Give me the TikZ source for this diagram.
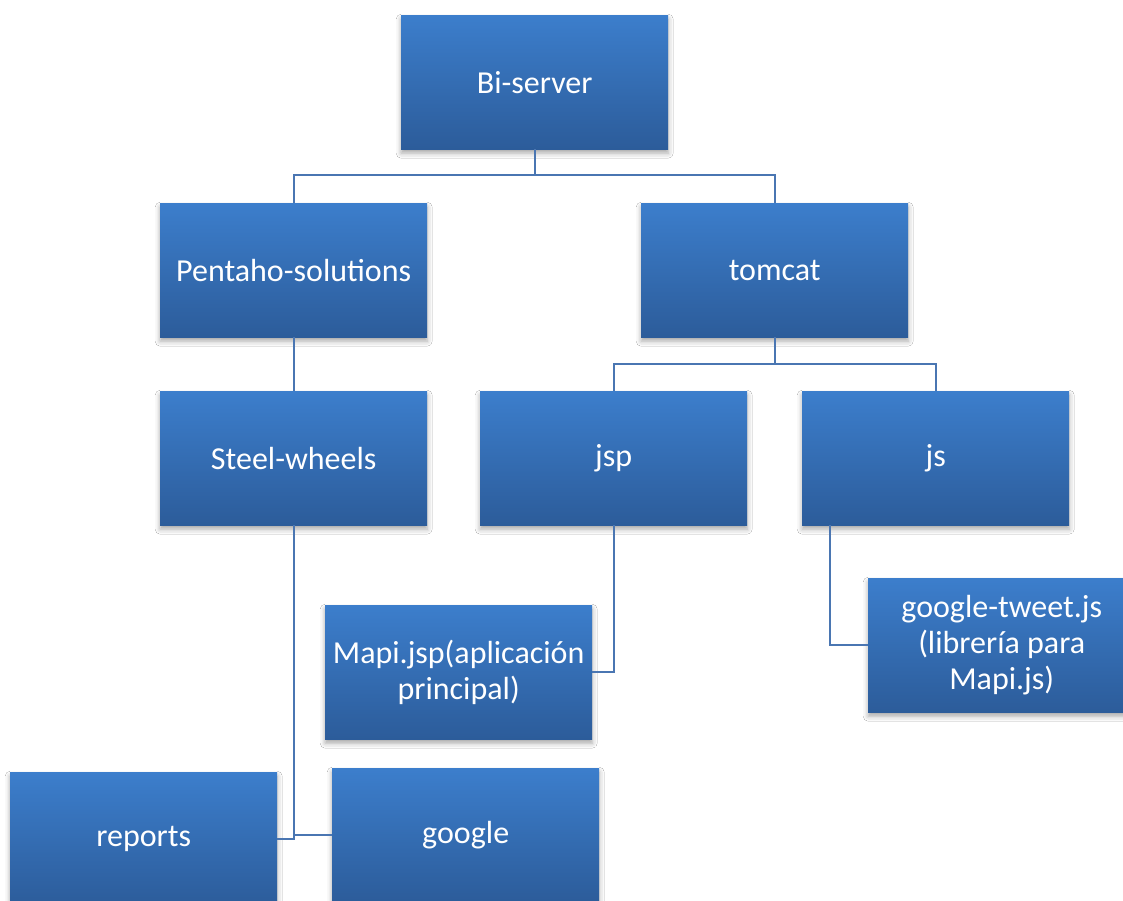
\documentclass[tikz,border=0pt]{standalone}
\usepackage{fontspec}
\setmainfont{Carlito}
\usetikzlibrary{shadows.blur}
\definecolor{boxtop}{RGB}{60,126,204}
\definecolor{boxbot}{RGB}{44,92,154}
\definecolor{linkcol}{RGB}{74,118,178}
\tikzset{
  orgbox/.style={rectangle, anchor=north west, minimum width=267pt, minimum height=134pt,
    inner sep=0pt, top color=boxtop, bottom color=boxbot, text=white, align=center,
    font=\fontsize{32}{36}\selectfont,
    blur shadow={shadow xshift=0pt, shadow yshift=-4pt, shadow blur radius=5pt, shadow opacity=35}},
  link/.style={draw=linkcol, line width=2pt}
}
\begin{document}
\begin{tikzpicture}[x=1pt, y=-1pt]
\useasboundingbox (0,0) rectangle (1123,901);
\clip (0,0) rectangle (1123,901);
\fill[white] (0,0) rectangle (1123,901);

% boxes of the tree
\node[orgbox] (bi)      at (401,15)  {Bi-server};
\node[orgbox] (pent)    at (160,203) {Pentaho-solutions};
\node[orgbox] (tom)     at (641,203) {tomcat};
\node[orgbox] (steel)   at (160,391) {Steel-wheels};
\node[orgbox] (jsp)     at (480,391) {jsp};
\node[orgbox] (js)      at (802,391) {js};
\node[orgbox] (mapi)    at (325,605) {Mapi.jsp(aplicación\\principal)};
\node[orgbox] (tweet)   at (868,578) {google-tweet.js\\(librería para\\Mapi.js)};
\node[orgbox] (reports) at (10,772)  {reports};
\node[orgbox] (google)  at (332,768) {google};

% connectors
\draw[link] (bi.south) -- ++(0,26) -| (pent.north);
\draw[link] (bi.south) -- ++(0,26) -| (tom.north);
\draw[link] (pent.south) -- (steel.north);
\draw[link] (tom.south) -- ++(0,27) -| (jsp.north);
\draw[link] (tom.south) -- ++(0,27) -| (js.north);
\draw[link] (steel.south) |- (reports.east);
\draw[link] (steel.south) |- (google.west);
\draw[link] (jsp.south) |- (mapi.east);
\draw[link] ([xshift=-106pt]js.south) |- (tweet.west);
\end{tikzpicture}
\end{document}
